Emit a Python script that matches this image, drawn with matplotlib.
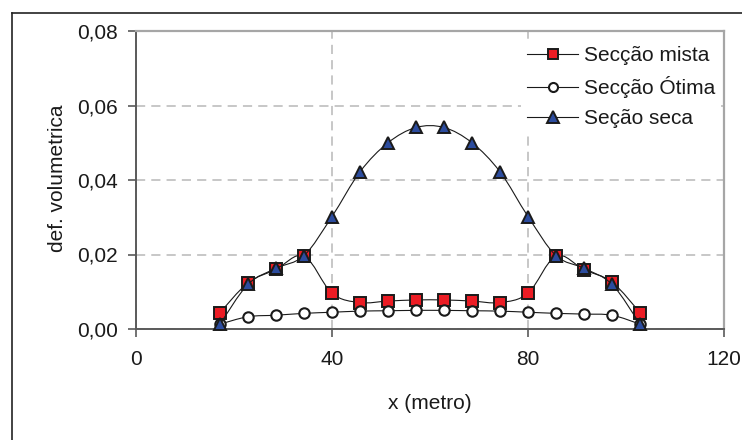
import numpy as np
import matplotlib
matplotlib.use("Agg")
import matplotlib.pyplot as plt
from matplotlib.path import Path
from matplotlib.patches import PathPatch
from matplotlib.lines import Line2D
from matplotlib.ticker import FuncFormatter

plt.rcParams['font.family'] = ['Liberation Sans', 'DejaVu Sans']

# Section positions along the profile (m)
x_metro = [17.14, 22.86, 28.57, 34.29, 40.00, 45.71, 51.43, 57.14,
           62.86, 68.57, 74.29, 80.00, 85.71, 91.43, 97.14, 102.86]

# Volumetric strain per section type
seccao_mista = [0.0044, 0.0124, 0.0160, 0.0196, 0.0096, 0.0071, 0.0075, 0.0078,
                0.0078, 0.0075, 0.0071, 0.0096, 0.0196, 0.0159, 0.0126, 0.0044]
seccao_otima = [0.0013, 0.0033, 0.0037, 0.0042, 0.0045, 0.0048, 0.0049, 0.0050,
                0.0050, 0.0049, 0.0048, 0.0045, 0.0042, 0.0040, 0.0037, 0.0013]
secao_seca = [0.0013, 0.0120, 0.0163, 0.0197, 0.0302, 0.0422, 0.0500, 0.0541,
              0.0541, 0.0500, 0.0422, 0.0302, 0.0197, 0.0163, 0.0120, 0.0013]

labels = ['Secção mista', 'Secção Ótima', 'Seção seca']
x_ticks = [0, 40, 80, 120]
y_ticks = [0.0, 0.02, 0.04, 0.06, 0.08]

W, H = 742, 440
FS = 15


def smooth_path(x, y):
    """Catmull-Rom style smoothed path through the data points."""
    pts = np.column_stack([x, y]).astype(float)
    n = len(pts)
    verts = [pts[0]]
    codes = [Path.MOVETO]
    for i in range(n - 1):
        p0 = pts[max(i - 1, 0)]
        p1 = pts[i]
        p2 = pts[i + 1]
        p3 = pts[min(i + 2, n - 1)]
        c1 = p1 + (p2 - p0) / 6.0
        c2 = p2 - (p3 - p1) / 6.0
        verts += [c1, c2, p2]
        codes += [Path.CURVE4] * 3
    return Path(verts, codes)


fig = plt.figure(figsize=(W / 100, H / 100), dpi=100)
fig.patch.set_facecolor('white')

left, right, top, bottom = 136, 724, 31, 329
ax = fig.add_axes([left / W, 1 - bottom / H, (right - left) / W, (bottom - top) / H])
ax.set_xlim(0, 120)
ax.set_ylim(0, 0.08)
ax.set_xticks(x_ticks)
ax.set_yticks(y_ticks)
ax.yaxis.set_major_formatter(FuncFormatter(lambda v, _: f"{v:.2f}".replace('.', ',')))
ax.xaxis.set_major_formatter(FuncFormatter(lambda v, _: f"{v:.0f}"))

ax.grid(True, color='#b8b8b8', linestyle=(0, (6, 4)), linewidth=1.1, zorder=0)
ax.set_axisbelow(True)

for side in ['left', 'bottom']:
    ax.spines[side].set_color('#5a5a5a')
    ax.spines[side].set_linewidth(1.4)
for side in ['top', 'right']:
    ax.spines[side].set_color('#a6a6a6')
    ax.spines[side].set_linewidth(1.6)

ax.tick_params(direction='out', length=6, width=1.2, color='#5a5a5a',
               labelsize=FS, labelcolor='#1a1a1a')
ax.tick_params(axis='y', pad=7)
ax.tick_params(axis='x', pad=9)

styles = [
    dict(marker='s', markersize=8, markerfacecolor='#ec1c24', markeredgecolor='#1a1a1a', markeredgewidth=1.4),
    dict(marker='o', markersize=7.5, markerfacecolor='white', markeredgecolor='#1a1a1a', markeredgewidth=1.5),
    dict(marker='^', markersize=9, markerfacecolor='#2c4c9e', markeredgecolor='#1a1a1a', markeredgewidth=1.4),
]
legend_sizes = [7, 6.5, 8]
series = [seccao_mista, seccao_otima, secao_seca]

handles = []
for k, (vals, st) in enumerate(zip(series, styles)):
    z = 3 + k
    ax.add_patch(PathPatch(smooth_path(x_metro, vals), facecolor='none',
                           edgecolor='#1a1a1a', linewidth=0.8, zorder=z))
    ax.plot(x_metro, vals, linestyle='none', zorder=z + 0.5, clip_on=False, **st)
    hst = dict(st)
    hst['markersize'] = legend_sizes[k]
    handles.append(Line2D([], [], color='#1a1a1a', linewidth=0.8, **hst))

leg = ax.legend(handles, labels, loc='upper left',
                bbox_to_anchor=(521 / W, 1 - 40 / H), bbox_transform=fig.transFigure,
                frameon=True, fancybox=False, facecolor='white', edgecolor='none',
                framealpha=1, fontsize=FS, handlelength=2.45, handletextpad=0.25,
                labelspacing=0.52, borderpad=0.3, borderaxespad=0)
for t in leg.get_texts():
    t.set_color('#1a1a1a')
leg.set_zorder(10)

fig.text(430 / W, 1 - 403 / H, 'x (metro)', ha='center', va='center',
         fontsize=FS, color='#1a1a1a')
fig.text(58 / W, 1 - 178 / H, 'def. volumetrica', ha='center', va='center',
         rotation=90, fontsize=FS, color='#1a1a1a')

# Outer chart frame (left and top edges)
fig.add_artist(Line2D([12 / W, 12 / W], [1 - 13 / H, 0], transform=fig.transFigure,
                      color='#222222', linewidth=1.2))
fig.add_artist(Line2D([12 / W, 1], [1 - 13 / H, 1 - 13 / H], transform=fig.transFigure,
                      color='#222222', linewidth=1.2))

fig.savefig('out.png', dpi=100, facecolor='white')
